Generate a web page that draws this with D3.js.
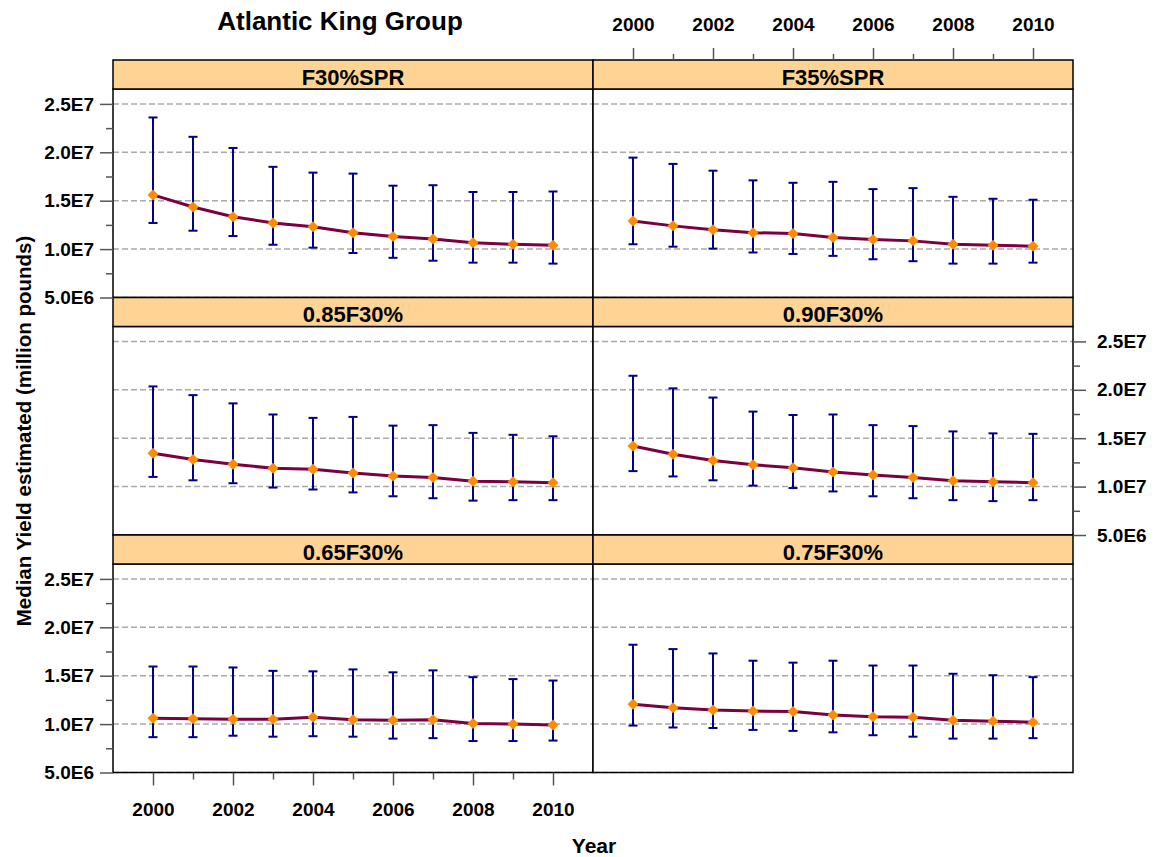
<!DOCTYPE html>
<html>
<head>
<meta charset="utf-8">
<script src="https://cdn.jsdelivr.net/npm/d3@7"></script>
<style>
  body { margin: 0; background: #fff; }
  svg { font-family: "Liberation Sans", Arial, sans-serif; font-weight: bold; }
  .tick text { font-family: "Liberation Sans", Arial, sans-serif; font-weight: bold; fill: #000; }
</style>
</head>
<body>
<div id="chart"></div>
<script>
// years on the x axis
const years = [2000, 2001, 2002, 2003, 2004, 2005, 2006, 2007, 2008, 2009, 2010];

// strip titles, read row by row (left, right)
const panelNames = ['F30%SPR', 'F35%SPR', '0.85F30%', '0.90F30%', '0.65F30%', '0.75F30%'];

// median / lower / upper, in millions of pounds
const f30sprMed = [15.6, 14.35, 13.35, 12.7, 12.3, 11.7, 11.3, 11.05, 10.65, 10.5, 10.4];
const f30sprLo  = [12.7, 11.9, 11.35, 10.45, 10.15, 9.6, 9.1, 8.8, 8.6, 8.6, 8.5];
const f30sprHi  = [23.6, 21.6, 20.45, 18.5, 17.9, 17.8, 16.55, 16.6, 15.9, 15.9, 15.95];

const f35sprMed = [12.9, 12.4, 12.0, 11.7, 11.6, 11.2, 11.0, 10.85, 10.5, 10.4, 10.3];
const f35sprLo  = [10.5, 10.25, 10.05, 9.65, 9.5, 9.3, 8.95, 8.75, 8.5, 8.5, 8.6];
const f35sprHi  = [19.45, 18.8, 18.1, 17.1, 16.85, 16.95, 16.2, 16.3, 15.4, 15.2, 15.1];

const f085Med = [13.45, 12.8, 12.3, 11.9, 11.8, 11.4, 11.1, 10.95, 10.55, 10.5, 10.4];
const f085Lo  = [11.0, 10.65, 10.35, 9.9, 9.7, 9.4, 9.0, 8.8, 8.55, 8.6, 8.6];
const f085Hi  = [20.35, 19.45, 18.6, 17.45, 17.1, 17.2, 16.3, 16.35, 15.55, 15.35, 15.2];

const f090Med = [14.2, 13.35, 12.7, 12.25, 11.95, 11.5, 11.2, 10.95, 10.6, 10.5, 10.4];
const f090Lo  = [11.6, 11.05, 10.65, 10.1, 9.85, 9.5, 9.0, 8.8, 8.6, 8.5, 8.6];
const f090Hi  = [21.45, 20.15, 19.2, 17.75, 17.4, 17.45, 16.35, 16.25, 15.7, 15.5, 15.45];

const f065Med = [10.6, 10.55, 10.5, 10.5, 10.7, 10.45, 10.4, 10.45, 10.05, 10.0, 9.9];
const f065Lo  = [8.65, 8.65, 8.8, 8.7, 8.75, 8.7, 8.5, 8.55, 8.25, 8.25, 8.3];
const f065Hi  = [15.95, 15.95, 15.85, 15.5, 15.45, 15.65, 15.35, 15.55, 14.85, 14.65, 14.5];

const f075Med = [12.05, 11.7, 11.45, 11.35, 11.3, 10.95, 10.75, 10.7, 10.4, 10.3, 10.2];
const f075Lo  = [9.85, 9.65, 9.6, 9.4, 9.3, 9.15, 8.85, 8.7, 8.5, 8.5, 8.55];
const f075Hi  = [18.2, 17.75, 17.3, 16.55, 16.35, 16.55, 16.05, 16.05, 15.2, 15.05, 14.85];

// y ticks
const yMajor = [5e6, 1e7, 1.5e7, 2e7, 2.5e7];
const yMinor = [7.5e6, 1.25e7, 1.75e7, 2.25e7];
const xMajor = [2000, 2002, 2004, 2006, 2008, 2010];
const xMinor = [2001, 2003, 2005, 2007, 2009];

const panels = [
  { name: panelNames[0], med: f30sprMed, lo: f30sprLo, hi: f30sprHi },
  { name: panelNames[1], med: f35sprMed, lo: f35sprLo, hi: f35sprHi },
  { name: panelNames[2], med: f085Med, lo: f085Lo, hi: f085Hi },
  { name: panelNames[3], med: f090Med, lo: f090Lo, hi: f090Hi },
  { name: panelNames[4], med: f065Med, lo: f065Lo, hi: f065Hi },
  { name: panelNames[5], med: f075Med, lo: f075Lo, hi: f075Hi }
];

const W = 1154, H = 857;
const colX = [113, 593];
const colW = 480;
const rowY = [60, 297.5, 535];
const stripH = 29;
const panelH = 208.5;

const svg = d3.select('#chart').append('svg')
  .attr('width', W)
  .attr('height', H);

const fmtY = d => d >= 1e7 ? (d / 1e7).toFixed(1) + 'E7' : (d / 1e6).toFixed(1) + 'E6';

function xScaleFor(col) {
  return d3.scaleLinear().domain([1999, 2011]).range([colX[col], colX[col] + colW]);
}
function yScaleFor(row) {
  let top = rowY[row] + stripH;
  return d3.scaleLinear().domain([5e6, 26.54e6]).range([top + panelH, top]);
}

function styleAxis(g) {
  g.select('.domain').remove();
  g.selectAll('.tick line').attr('stroke', '#555').attr('stroke-width', 1.5);
  g.selectAll('.tick text').style('font-size', '19px');
}

panels.forEach((p, k) => {
  let row = Math.floor(k / 2), col = k % 2;
  let x = xScaleFor(col), y = yScaleFor(row);
  let g = svg.append('g').attr('class', 'panel');
  let top = rowY[row] + stripH;

  // background box
  g.append('rect')
    .attr('x', colX[col]).attr('y', top)
    .attr('width', colW).attr('height', panelH)
    .attr('fill', '#fff');

  // dashed grid
  g.selectAll('.grid')
    .data(yMajor)
    .enter()
    .append('line')
    .attr('class', 'grid')
    .attr('x1', colX[col]).attr('x2', colX[col] + colW)
    .attr('y1', d => y(d)).attr('y2', d => y(d))
    .attr('stroke', '#aaa')
    .attr('stroke-width', 1.5)
    .attr('stroke-dasharray', '6,3');

  let pts = years.map((yr, i) => ({ yr: yr, med: p.med[i] * 1e6, lo: p.lo[i] * 1e6, hi: p.hi[i] * 1e6 }));

  // error bars
  let eb = g.append('g').attr('stroke', '#00008b').attr('stroke-width', 2);
  eb.selectAll('.bar').data(pts).enter().append('line')
    .attr('x1', d => x(d.yr)).attr('x2', d => x(d.yr))
    .attr('y1', d => y(d.lo)).attr('y2', d => y(d.hi));
  eb.selectAll('.capHi').data(pts).enter().append('line')
    .attr('x1', d => x(d.yr) - 4.5).attr('x2', d => x(d.yr) + 4.5)
    .attr('y1', d => y(d.hi)).attr('y2', d => y(d.hi));
  eb.selectAll('.capLo').data(pts).enter().append('line')
    .attr('x1', d => x(d.yr) - 4.5).attr('x2', d => x(d.yr) + 4.5)
    .attr('y1', d => y(d.lo)).attr('y2', d => y(d.lo));

  // median line
  g.append('path')
    .datum(pts)
    .attr('fill', 'none')
    .attr('stroke', '#7a0040')
    .attr('stroke-width', 3)
    .attr('d', d3.line().x(d => x(d.yr)).y(d => y(d.med)));

  // diamonds
  g.selectAll('.pt').data(pts).enter().append('path')
    .attr('transform', d => `translate(${x(d.yr)},${y(d.med)})`)
    .attr('d', 'M0,-5.5L5.5,0L0,5.5L-5.5,0Z')
    .attr('fill', '#ff8c00');

  // border
  g.append('rect')
    .attr('x', colX[col]).attr('y', top)
    .attr('width', colW).attr('height', panelH)
    .attr('fill', 'none').attr('stroke', '#000').attr('stroke-width', 1.5);

  // strip
  g.append('rect')
    .attr('x', colX[col]).attr('y', rowY[row])
    .attr('width', colW).attr('height', stripH)
    .attr('fill', '#ffd393').attr('stroke', '#000').attr('stroke-width', 1.5);
  g.append('text')
    .attr('x', colX[col] + colW / 2).attr('y', rowY[row] + 24.5)
    .attr('text-anchor', 'middle')
    .style('font-size', '22px')
    .text(p.name);
});

// left axes (rows 0 and 2)
[0, 2].forEach(row => {
  let y = yScaleFor(row);
  svg.append('g').attr('transform', `translate(${colX[0]},0)`)
    .call(d3.axisLeft(y).tickValues(yMajor).tickFormat(fmtY).tickSize(13).tickPadding(6))
    .call(styleAxis);
  svg.append('g').attr('transform', `translate(${colX[0]},0)`)
    .call(d3.axisLeft(y).tickValues(yMinor).tickFormat('').tickSize(7))
    .call(styleAxis);
});

// right axis (row 1)
{
  let y = yScaleFor(1);
  let xr = colX[1] + colW;
  svg.append('g').attr('transform', `translate(${xr},0)`)
    .call(d3.axisRight(y).tickValues(yMajor).tickFormat(fmtY).tickSize(13).tickPadding(11))
    .call(styleAxis);
  svg.append('g').attr('transform', `translate(${xr},0)`)
    .call(d3.axisRight(y).tickValues(yMinor).tickFormat('').tickSize(7))
    .call(styleAxis);
}

// top axis (right column)
{
  let x = xScaleFor(1);
  svg.append('g').attr('transform', `translate(0,${rowY[0]})`)
    .call(d3.axisTop(x).tickValues(xMajor).tickFormat(d3.format('d')).tickSize(12).tickPadding(17))
    .call(styleAxis);
  svg.append('g').attr('transform', `translate(0,${rowY[0]})`)
    .call(d3.axisTop(x).tickValues(xMinor).tickFormat('').tickSize(6))
    .call(styleAxis);
}

// bottom axis (left column)
{
  let x = xScaleFor(0);
  let yb = rowY[2] + stripH + panelH;
  svg.append('g').attr('transform', `translate(0,${yb})`)
    .call(d3.axisBottom(x).tickValues(xMajor).tickFormat(d3.format('d')).tickSize(13).tickPadding(17))
    .call(styleAxis);
  svg.append('g').attr('transform', `translate(0,${yb})`)
    .call(d3.axisBottom(x).tickValues(xMinor).tickFormat('').tickSize(7))
    .call(styleAxis);
}

// titles
svg.append('text')
  .attr('x', 340).attr('y', 29.5)
  .attr('text-anchor', 'middle')
  .style('font-size', '26px')
  .text('Atlantic King Group');

svg.append('text')
  .attr('x', 594).attr('y', 853)
  .attr('text-anchor', 'middle')
  .style('font-size', '21px')
  .text('Year');

svg.append('text')
  .attr('transform', 'translate(31,431) rotate(-90)')
  .attr('text-anchor', 'middle')
  .style('font-size', '20.5px')
  .text('Median Yield estimated (million pounds)');
</script>
</body>
</html>
